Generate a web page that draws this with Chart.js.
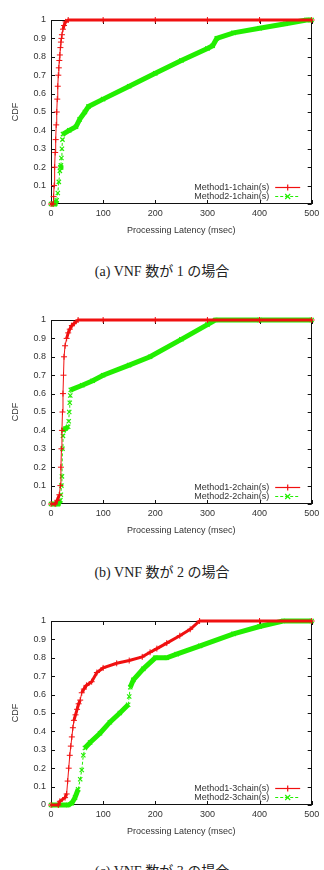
<!DOCTYPE html>
<html>
<head>
<meta charset="utf-8">
<script src="https://cdn.jsdelivr.net/npm/chart.js@4"></script>
<style>
html, body { margin: 0; padding: 0; background: #fff; overflow: hidden; }
body { width: 324px; height: 870px; position: relative; }
.box { position: absolute; left: 0; width: 324px; height: 240px; }
.cap { position: absolute; left: 0; width: 324px; text-align: center; line-height: 16px;
       font-family: "Liberation Serif", "DejaVu Serif", "Noto Sans CJK JP", serif; font-size: 14px; color: #222; }
</style>
</head>
<body>
<div class="box" style="top:0px"><canvas id="c1"></canvas></div>
<div class="cap" style="top:264px">(a) VNF 数が 1 の場合</div>
<div class="box" style="top:300px"><canvas id="c2"></canvas></div>
<div class="cap" style="top:565px">(b) VNF 数が 2 の場合</div>
<div class="box" style="top:601px"><canvas id="c3"></canvas></div>
<div class="cap" style="top:864px">(c) VNF 数が 3 の場合</div>
<script>
// tick labels
const xTicks = [0, 100, 200, 300, 400, 500];
const yTicks = [0, 0.1, 0.2, 0.3, 0.4, 0.5, 0.6, 0.7, 0.8, 0.9, 1];
const yTickLabels = ['0', '0.1', '0.2', '0.3', '0.4', '0.5', '0.6', '0.7', '0.8', '0.9', '1'];

// [latency msec, CDF]
const method1_1chain = [[0,0],[4,0],[5,0.04],[6,0.1],[7,0.2],[8,0.28],[9,0.35],[10,0.43],[11,0.5],[12,0.57],[13,0.64],[14,0.7],[15,0.74],[16,0.78],[17,0.81],[18,0.85],[19,0.88],[20,0.9],[21,0.92],[23,0.95],[25,0.97],[28,0.99],[33,1],[100,1],[200,1],[300,1],[400,1],[500,1]];
const method2_1chain = [[0,0],[8,0],[11,0.02],[13,0.06],[15,0.12],[17,0.18],[18,0.2],[19,0.21],[20,0.25],[21,0.3],[22,0.35],[23,0.38],[35,0.4],[48,0.42],[55,0.46],[65,0.5],[72,0.53],[100,0.57],[150,0.64],[200,0.71],[250,0.78],[300,0.845],[310,0.86],[318,0.9],[350,0.93],[400,0.955],[450,0.98],[490,1],[500,1]];

const method1_2chain = [[0,0],[8,0],[12,0.02],[16,0.05],[18,0.1],[19,0.2],[20,0.3],[21,0.4],[22,0.5],[23,0.6],[24,0.7],[25,0.8],[27,0.86],[30,0.9],[33,0.93],[36,0.95],[40,0.97],[44,0.98],[52,1],[100,1],[200,1],[300,1],[400,1],[500,1]];
const method2_2chain = [[0,0],[14,0],[18,0.02],[19,0.05],[20,0.1],[21,0.15],[22,0.3],[23,0.37],[24,0.4],[28,0.41],[33,0.42],[34,0.45],[35,0.5],[36,0.55],[37,0.59],[38,0.62],[60,0.645],[80,0.67],[100,0.7],[150,0.755],[190,0.8],[250,0.895],[300,0.975],[315,1],[400,1],[500,1]];

const method1_3chain = [[0,0],[14,0],[17,0.02],[27,0.04],[30,0.06],[32,0.13],[34,0.2],[36,0.27],[38,0.32],[40,0.37],[42,0.42],[44,0.46],[47,0.49],[50,0.52],[53,0.55],[56,0.57],[59,0.61],[63,0.63],[68,0.65],[78,0.67],[88,0.72],[100,0.745],[126,0.77],[150,0.785],[175,0.805],[190,0.83],[203,0.85],[222,0.88],[247,0.92],[267,0.955],[285,1],[400,1],[500,1]];
const method2_3chain = [[0,0],[33,0],[40,0.01],[46,0.04],[52,0.085],[56,0.14],[59,0.19],[62,0.27],[65,0.31],[75,0.34],[94,0.39],[113,0.45],[132,0.5],[148,0.545],[150,0.59],[152,0.64],[158,0.68],[177,0.74],[200,0.8],[222,0.8],[241,0.82],[286,0.865],[350,0.93],[400,0.97],[445,1],[500,1]];

const RED = '#f01010';
const GREEN = '#22ee00';
const TXT = '#333';
const FONT = "'Liberation Sans', Arial, sans-serif";

// bagian curam digambar tipis, bagian landai jadi pita tebal (seperti marker rapat gnuplot)
function steep(ctx) {
    const dx = Math.abs(ctx.p1.x - ctx.p0.x);
    const dy = Math.abs(ctx.p1.y - ctx.p0.y);
    return dy > dx * 4;
}

// bingkai dan tick ke dalam
const framePlugin = {
    id: 'frame',
    beforeDatasetsDraw(chart) {
        const { ctx, chartArea: a, scales } = chart;
        ctx.save();
        ctx.strokeStyle = '#111';
        ctx.lineWidth = 1;
        ctx.strokeRect(Math.round(a.left) + 0.5, Math.round(a.top) + 0.5,
            Math.round(a.right - a.left) - 1, Math.round(a.bottom - a.top) - 1);
        ctx.beginPath();
        xTicks.forEach(v => {
            const px = Math.round(scales.x.getPixelForValue(v)) + 0.5;
            ctx.moveTo(px, a.bottom); ctx.lineTo(px, a.bottom - 4);
            ctx.moveTo(px, a.top); ctx.lineTo(px, a.top + 4);
        });
        yTicks.forEach(v => {
            const py = Math.round(scales.y.getPixelForValue(v)) + 0.5;
            ctx.moveTo(a.left, py); ctx.lineTo(a.left + 4, py);
            ctx.moveTo(a.right, py); ctx.lineTo(a.right - 4, py);
        });
        ctx.stroke();
        ctx.restore();
    }
};

// legenda di pojok kanan bawah area plot
const keyPlugin = {
    id: 'key',
    afterDatasetsDraw(chart) {
        const { ctx, chartArea: a } = chart;
        ctx.save();
        ctx.font = '9px ' + FONT;
        ctx.fillStyle = TXT;
        ctx.textAlign = 'right';
        ctx.textBaseline = 'middle';
        chart.data.datasets.forEach((ds, i) => {
            const y = Math.round(a.bottom - 17.3 + i * 9.3) + 0.5;
            ctx.fillText(ds.label, a.right - 42.5, y);
            const x0 = a.right - 36.5, x1 = a.right - 11.5, xm = (x0 + x1) / 2;
            ctx.strokeStyle = ds.borderColor;
            ctx.lineWidth = 1.2;
            ctx.setLineDash(i === 0 ? [] : [3, 2]);
            ctx.beginPath(); ctx.moveTo(x0, y); ctx.lineTo(x1, y); ctx.stroke();
            ctx.setLineDash([]);
            ctx.beginPath();
            if (i === 0) {
                ctx.moveTo(xm - 3, y); ctx.lineTo(xm + 3, y);
                ctx.moveTo(xm, y - 3); ctx.lineTo(xm, y + 3);
            } else {
                ctx.moveTo(xm - 2.5, y - 2.5); ctx.lineTo(xm + 2.5, y + 2.5);
                ctx.moveTo(xm + 2.5, y - 2.5); ctx.lineTo(xm - 2.5, y + 2.5);
            }
            ctx.stroke();
        });
        ctx.restore();
    }
};

function makeChart(id, labelA, dataA, labelB, dataB) {
    const ctx = document.getElementById(id).getContext('2d');
    return new Chart(ctx, {
        type: 'line',
        data: {
            datasets: [{
                label: labelA,
                data: dataA.map(p => ({ x: p[0], y: p[1] })),
                borderColor: RED,
                backgroundColor: RED,
                pointStyle: 'cross',
                pointRadius: 3,
                pointBorderWidth: 1,
                segment: { borderWidth: c => steep(c) ? 1 : 3 }
            }, {
                label: labelB,
                data: dataB.map(p => ({ x: p[0], y: p[1] })),
                borderColor: GREEN,
                backgroundColor: GREEN,
                pointStyle: 'crossRot',
                pointRadius: 3,
                pointBorderWidth: 1.2,
                segment: {
                    borderWidth: c => steep(c) ? 1 : 5,
                    borderDash: c => steep(c) ? [3, 2] : []
                }
            }]
        },
        options: {
            responsive: false,
            animation: false,
            clip: false,
            layout: { padding: { top: 20, right: 12.3, left: 0, bottom: 0 } },
            plugins: { legend: { display: false }, tooltip: { enabled: false } },
            scales: {
                x: {
                    type: 'linear', min: 0, max: 500,
                    afterBuildTicks: s => { s.ticks = xTicks.map(v => ({ value: v })); },
                    afterFit: s => { s.height = 36; },
                    grid: { display: false, drawTicks: false },
                    border: { display: false },
                    ticks: { color: TXT, font: { family: FONT, size: 9 }, padding: 4, maxRotation: 0 },
                    title: { display: true, text: 'Processing Latency (msec)', color: TXT,
                             font: { family: FONT, size: 9 }, padding: { top: 0, bottom: 4 } }
                },
                y: {
                    type: 'linear', min: 0, max: 1,
                    afterBuildTicks: s => { s.ticks = yTicks.map(v => ({ value: v })); },
                    afterFit: s => { s.width = 51; },
                    grid: { display: false, drawTicks: false },
                    border: { display: false },
                    ticks: { color: TXT, font: { family: FONT, size: 9 }, padding: 5,
                             callback: (v, i) => yTickLabels[i] },
                    title: { display: true, text: 'CDF', color: TXT,
                             font: { family: FONT, size: 9 }, padding: { top: 10, bottom: 0 } }
                }
            }
        },
        plugins: [framePlugin, keyPlugin]
    });
}

document.querySelectorAll('canvas').forEach(c => { c.width = 324; c.height = 240; });
makeChart('c1', 'Method1-1chain(s)', method1_1chain, 'Method2-1chain(s)', method2_1chain);
makeChart('c2', 'Method1-2chain(s)', method1_2chain, 'Method2-2chain(s)', method2_2chain);
makeChart('c3', 'Method1-3chain(s)', method1_3chain, 'Method2-3chain(s)', method2_3chain);
</script>
</body>
</html>
